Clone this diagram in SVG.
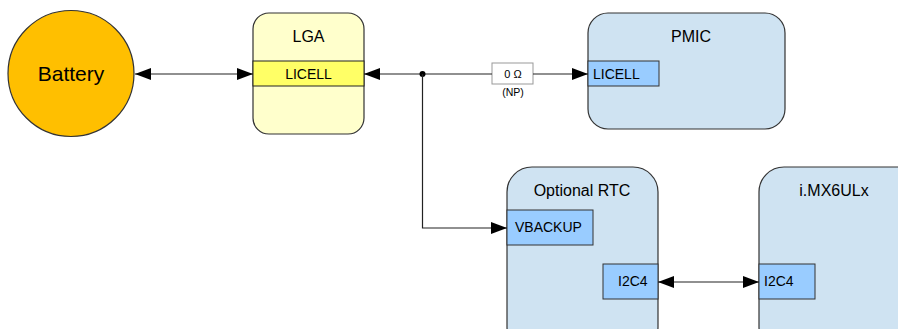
<svg xmlns="http://www.w3.org/2000/svg" width="898" height="329" viewBox="0 0 898 329">
<style>
text{font-family:"Liberation Sans",Arial,sans-serif;fill:#000}
.blk{fill:#cfe3f2;stroke:#333;stroke-width:1.2}
.port{fill:#99ccff;stroke:#333;stroke-width:1}
.t{font-size:16px;text-anchor:middle}
.p{font-size:14px}
.w{fill:none;stroke:#222;stroke-width:1.2}
</style>
<defs>
<marker id="ah" viewBox="0 0 16 12" refX="16" refY="6" markerWidth="16" markerHeight="12" markerUnits="userSpaceOnUse" orient="auto-start-reverse">
<path d="M0,0 L16,6 L0,12 Z" fill="#000"/>
</marker>
</defs>
<rect width="898" height="329" fill="#fff"/>
<g id="battery">
<circle cx="71" cy="73.5" r="63" fill="#ffbf00" stroke="#333" stroke-width="1.2"/>
<text x="71" y="81" class="t" style="font-size:21px">Battery</text>
</g>
<g id="lga">
<rect x="253" y="13" width="111" height="121" rx="16" fill="#ffffcc" stroke="#333" stroke-width="1.2"/>
<rect x="253" y="61" width="111" height="25" fill="#ffff66" stroke="#222" stroke-width="1"/>
<text x="308.5" y="42" class="t">LGA</text>
<text x="308.5" y="78.5" class="t" style="font-size:14px">LICELL</text>
</g>
<g id="pmic">
<rect x="588" y="13" width="197" height="116" rx="20" class="blk"/>
<text x="691" y="42" class="t">PMIC</text>
<rect x="588" y="61" width="71" height="25" class="port"/>
<text x="593" y="78.5" class="p">LICELL</text>
</g>
<g id="rtc">
<rect x="507" y="167" width="151" height="185" rx="25" class="blk"/>
<text x="582" y="196" class="t">Optional RTC</text>
<rect x="507" y="210" width="86" height="35" class="port"/>
<text x="515" y="232" class="p">VBACKUP</text>
<rect x="603" y="264" width="55" height="35" class="port"/>
<text x="618" y="286" class="p">I2C4</text>
</g>
<g id="imx">
<rect x="759" y="167" width="170" height="185" rx="25" class="blk"/>
<text x="834" y="196" class="t">i.MX6ULx</text>
<rect x="759" y="264" width="56" height="35" class="port"/>
<text x="764" y="286" class="p">I2C4</text>
</g>
<g id="resistor">
<rect x="492" y="63" width="41" height="21" fill="#fff" stroke="#999" stroke-width="1"/>
<text x="513" y="78" class="t" style="font-size:11px">0 Ω</text>
<text x="513" y="96" class="t" style="font-size:10.5px">(NP)</text>
</g>
<g id="connectors">
<line x1="135" y1="74" x2="253" y2="74" class="w" marker-start="url(#ah)" marker-end="url(#ah)"/>
<line x1="364" y1="74" x2="492" y2="74" class="w" marker-start="url(#ah)"/>
<line x1="533" y1="74" x2="588" y2="74" class="w" marker-end="url(#ah)"/>
<circle cx="422.5" cy="74" r="3" fill="#000"/>
<polyline points="422.5,74 422.5,228 507,228" class="w" marker-end="url(#ah)"/>
<line x1="658" y1="282" x2="759" y2="282" class="w" marker-start="url(#ah)" marker-end="url(#ah)"/>
</g>
</svg>
